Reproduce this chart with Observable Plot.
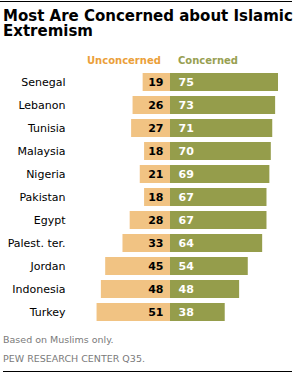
<!DOCTYPE html>
<html>
<head>
<meta charset="utf-8">
<script src="https://cdn.jsdelivr.net/npm/d3@7"></script>
<script src="https://cdn.jsdelivr.net/npm/@observablehq/plot@0.6"></script>
<style>
  html, body { margin: 0; padding: 0; background: #fff; }
  body { width: 297px; height: 375px; position: relative; overflow: hidden; font-family: "DejaVu Sans", Verdana, sans-serif; }
  .rule { position: absolute; left: 0; width: 292px; height: 1px; background: #000; }
  .title { position: absolute; left: 3px; margin: 0; font-size: 15px; line-height: 15px; font-weight: bold; color: #000; letter-spacing: 0px; white-space: nowrap; }
  .leg { position: absolute; top: 55px; font-size: 10px; font-weight: bold; white-space: nowrap; }
  #chart { position: absolute; left: 0; top: 64px; }
  .note { position: absolute; left: 3px; font-size: 9.5px; color: #7a7a7a; white-space: nowrap; }
</style>
</head>
<body>
<div class="rule" style="top:1px"></div>
<div class="title" style="top:9px">Most Are Concerned about Islamic</div>
<div class="title" style="top:24px">Extremism</div>
<div class="leg" style="left:87px;color:#EBA03A">Unconcerned</div>
<div class="leg" style="left:178px;color:#98A052">Concerned</div>
<div id="chart"></div>
<div class="note" style="top:334px">Based on Muslims only.</div>
<div class="note" style="top:353px">PEW RESEARCH CENTER Q35.</div>
<div class="rule" style="top:371px;left:3px;width:289px"></div>
<script>
const countries = ["Senegal","Lebanon","Tunisia","Malaysia","Nigeria","Pakistan","Egypt","Palest. ter.","Jordan","Indonesia","Turkey"];
const unconcerned = [19,26,27,18,21,18,28,33,45,48,51];
const concerned = [75,73,71,70,69,67,67,64,54,48,38];

const rows = countries.map((c, i) => ({country: c, unconcerned: unconcerned[i], concerned: concerned[i]}));

const chart = Plot.plot({
  width: 297,
  height: 264,
  marginLeft: 70,
  marginRight: 0,
  marginTop: 1,
  marginBottom: 0,
  style: {fontFamily: "'DejaVu Sans', Verdana, sans-serif", fontSize: "11px", background: "#fff"},
  x: {domain: [-69.44, 88.19], axis: null},
  y: {domain: countries, padding: 0.23, label: null, tickSize: 0, tickPadding: 5},
  marks: [
    Plot.barX(rows, {x1: 0, x2: d => -d.unconcerned, y: "country", fill: "#F1C383"}),
    Plot.barX(rows, {x1: 0, x2: "concerned", y: "country", fill: "#959D4B"}),
    Plot.text(rows, {x: 0, y: "country", text: d => String(d.unconcerned), textAnchor: "end", dx: -7, fill: "#000", fontWeight: "bold", fontSize: 11}),
    Plot.text(rows, {x: 0, y: "country", text: d => String(d.concerned), textAnchor: "start", dx: 8, fill: "#fff", fontWeight: "bold", fontSize: 11}),
    Plot.axisY({tickSize: 0, tickPadding: 5, fontSize: 11, label: null, color: "#000"})
  ]
});
document.getElementById("chart").appendChild(chart);
</script>
</body>
</html>
